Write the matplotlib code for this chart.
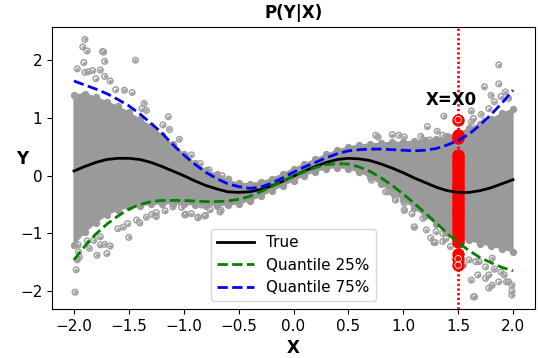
import matplotlib
matplotlib.use("Agg")
import matplotlib.pyplot as plt

# x grid shared by the curves and the dense part of the cloud
grid_x = [-2.0, -1.9, -1.8, -1.7, -1.6, -1.5, -1.4, -1.3, -1.2, -1.1, -1.0,
          -0.9, -0.8, -0.7, -0.6, -0.5, -0.4, -0.3, -0.2, -0.1, 0.0,
          0.1, 0.2, 0.3, 0.4, 0.5, 0.6, 0.7, 0.8, 0.9, 1.0,
          1.1, 1.2, 1.3, 1.4, 1.5, 1.6, 1.7, 1.8, 1.9, 2.0]

true_y = [0.08, 0.16, 0.23, 0.28, 0.30, 0.30, 0.28, 0.23, 0.16, 0.08, 0.00,
          -0.09, -0.17, -0.23, -0.28, -0.29, -0.28, -0.24, -0.18, -0.10, -0.01,
          0.08, 0.16, 0.23, 0.28, 0.30, 0.29, 0.26, 0.20, 0.13, 0.05,
          -0.04, -0.12, -0.20, -0.26, -0.29, -0.29, -0.26, -0.21, -0.14, -0.07]

q25_y = [-1.46, -1.22, -1.01, -0.84, -0.70, -0.58, -0.50, -0.45, -0.43, -0.43, -0.43,
         -0.44, -0.45, -0.45, -0.44, -0.41, -0.36, -0.28, -0.19, -0.10, -0.01,
         0.07, 0.14, 0.19, 0.21, 0.20, 0.15, 0.07, -0.04, -0.17, -0.32,
         -0.48, -0.65, -0.82, -1.00, -1.16, -1.30, -1.42, -1.51, -1.59, -1.65]

q75_y = [1.64, 1.57, 1.50, 1.42, 1.32, 1.21, 1.07, 0.91, 0.74, 0.54, 0.36,
         0.20, 0.06, -0.05, -0.14, -0.19, -0.22, -0.20, -0.13, -0.04, 0.06,
         0.15, 0.23, 0.31, 0.38, 0.43, 0.45, 0.46, 0.46, 0.45, 0.44,
         0.43, 0.44, 0.47, 0.53, 0.61, 0.72, 0.88, 1.06, 1.26, 1.48]

# dense core of the sample cloud (upper / lower edge)
cloud_top = [1.40, 1.42, 1.36, 1.28, 1.20, 1.10, 0.98, 0.86, 0.70, 0.54, 0.38,
             0.22, 0.10, 0.02, -0.08, -0.13, -0.14, -0.11, -0.05, 0.03, 0.12,
             0.20, 0.29, 0.37, 0.44, 0.50, 0.53, 0.55, 0.56, 0.58, 0.58,
             0.60, 0.62, 0.64, 0.68, 0.74, 0.82, 0.90, 0.98, 1.08, 1.15]

cloud_bottom = [-1.20, -0.98, -0.82, -0.68, -0.60, -0.55, -0.52, -0.50, -0.49, -0.49, -0.50,
                -0.51, -0.52, -0.52, -0.51, -0.49, -0.44, -0.36, -0.27, -0.18, -0.09,
                0.00, 0.07, 0.12, 0.14, 0.12, 0.06, -0.03, -0.15, -0.28, -0.42,
                -0.56, -0.70, -0.84, -0.97, -1.07, -1.12, -1.18, -1.22, -1.27, -1.32]

# scattered samples outside the dense core
out_x = [-1.90, -1.92, -1.88, -1.74, -1.73, -1.72, -1.91, -1.44, -1.97, -1.90, -1.87, -1.83,
         -1.76, -1.72, -1.67, -1.80, -1.62, -1.54, -1.47, -1.36, -1.38, -1.34, -1.14, -1.19,
         -1.13, -1.04, -0.93, -0.85, -0.77, -0.65, -0.59, -1.99,
         -1.99, -1.98, -1.97, -1.95, -1.96, -1.96, -1.86, -1.79, -1.70, -1.67, -1.76, -1.72,
         -1.88, -1.82, -1.76, -1.50, -1.60, -1.55, -1.51, -1.43, -1.40, -1.34, -1.29, -1.25,
         -1.17, -1.10, -0.98, -0.93, -0.87, -0.80, -0.67, -0.84, -1.02, -1.25, -0.99, -0.87,
         -0.81, -0.76, -0.66,
         0.77, 0.90, 0.75, 1.01, 0.71, 0.86, 0.93, 0.92, 1.01, 1.10,
         1.87, 1.74, 1.87, 1.80, 1.83, 1.89, 1.93, 1.96, 1.37, 1.62, 1.64, 1.71, 1.74, 1.78,
         1.22, 1.31, 1.36, 1.16, 0.96, 1.06, 1.15, 1.24, 1.62,
         1.65, 1.99, 1.99, 1.96, 1.62, 1.68, 1.75, 1.78, 1.81, 1.87, 1.92, 1.94, 1.78, 1.83,
         1.89, 1.69, 1.75, 1.81, 1.55, 1.60, 1.66, 1.43, 1.39, 1.36, 1.28, 1.21, 1.10, 1.30,
         1.25, 1.01, 1.08, 1.18, 0.93, 1.01, 0.84, 0.92, 1.29, 1.36, 1.64, 1.99]
out_y = [2.36, 2.23, 2.16, 2.15, 2.14, 1.98, 1.96, 2.00, 1.85, 1.79, 1.80, 1.82,
         1.83, 1.72, 1.64, 1.68, 1.49, 1.48, 1.44, 1.25, 1.16, 1.13, 1.02, 0.88,
         0.80, 0.63, 0.36, 0.21, 0.10, 0.00, -0.06, 1.37,
         -2.02, -1.63, -1.46, -1.41, -1.20, -1.32, -1.26, -1.38, -1.35, -1.22, -1.20, -1.19,
         -1.13, -1.12, -1.06, -1.07, -0.92, -0.89, -0.83, -0.77, -0.82, -0.72, -0.67, -0.64,
         -0.61, -0.54, -0.67, -0.66, -0.73, -0.69, -0.63, -0.51, -0.55, -0.71, -0.68, -0.72,
         -0.70, -0.59, -0.60,
         0.67, 0.71, 0.70, 0.67, -0.08, -0.28, -0.42, -0.31, -0.60, -0.89,
         1.92, 1.54, 1.59, 1.39, 1.28, 1.37, 1.45, 1.34, 1.03, 1.12, 0.99, 1.06, 0.94, 1.16,
         0.85, 0.77, 0.70, 0.68, 0.70, 0.53, 0.55, 0.62, 0.93,
         -2.10, -1.90, -2.00, -1.84, -1.81, -1.72, -1.78, -1.72, -1.90, -1.84, -1.72, -1.84, -1.95, -1.62,
         -1.67, -1.49, -1.58, -1.43, -1.55, -1.46, -1.49, -1.23, -1.09, -1.00, -1.16, -0.94, -0.89, -0.97,
         -1.08, -0.60, -0.66, -0.74, -0.42, -0.48, -0.28, -0.34, -1.16, -1.14, -2.10, -2.07]

# samples of P(Y | X = X0)
x0 = 1.5
x0_samples = [0.97, 0.71, 0.66, 0.36, 0.31, 0.26, 0.21, 0.16, 0.11, 0.06, 0.01,
              -0.04, -0.09, -0.14, -0.19, -0.24, -0.29, -0.34, -0.39, -0.44, -0.49,
              -0.54, -0.59, -0.64, -0.69, -0.74, -0.79, -0.84, -0.89, -0.94, -0.99,
              -1.04, -1.09, -1.15, -1.35, -1.44, -1.55]

gray = "#9a9a9a"

fig = plt.figure(figsize=(5.38, 3.58), dpi=100)
ax = fig.add_axes([0.0967, 0.137, 0.8977, 0.7883])

# dense cloud as one closed polygon
ax.fill(grid_x + grid_x[::-1], cloud_top + cloud_bottom[::-1], facecolor=gray,
        edgecolor=gray, lw=0.8, zorder=1)
ax.scatter(grid_x + grid_x, cloud_top + cloud_bottom, s=18, facecolors=gray,
           edgecolors=gray, linewidths=1, zorder=1)
ax.scatter(out_x, out_y, s=16, facecolors="none", edgecolors="#a0a0a0",
           linewidths=1.1, zorder=2)
ax.scatter(out_x, out_y, s=1.5, color="#a0a0a0", zorder=2)

ax.axvline(x0, color="red", lw=2, ls=(0, (0.8, 0.9)), zorder=3)
ax.scatter([x0] * len(x0_samples), x0_samples, s=55, facecolors="red",
           edgecolors="red", linewidths=1.5, zorder=3)
ax.scatter([x0] * 3, x0_samples[:1] + x0_samples[-2:], s=22, facecolors="none",
           edgecolors="white", linewidths=0.6, zorder=3)

ax.plot(grid_x, true_y, color="black", lw=2, label="True", zorder=4)
ax.plot(grid_x, q25_y, color="green", lw=2, ls="--", label="Quantile 25%", zorder=4)
ax.plot(grid_x, q75_y, color="blue", lw=2, ls="--", label="Quantile 75%", zorder=4)

ax.text(1.44, 1.31, "X=X0", fontsize=12, fontweight="bold", ha="center", va="center", zorder=5)

ax.set_xlim(-2.2, 2.2)
ax.set_ylim(-2.31, 2.58)
ax.set_xticks([-2.0, -1.5, -1.0, -0.5, 0.0, 0.5, 1.0, 1.5, 2.0])
ax.set_yticks([-2, -1, 0, 1, 2])
ax.tick_params(labelsize=11)
ax.set_title("P(Y|X)", fontsize=12, fontweight="bold")
ax.set_xlabel("X", fontsize=12, fontweight="bold")
ax.set_ylabel("Y", fontsize=12, fontweight="bold", rotation=0, ha="center", va="center")
ax.yaxis.set_label_coords(-0.062, 0.53)
ax.legend(loc="lower center", fontsize=11, handlelength=2.4)

fig.savefig("out.png", dpi=100)
